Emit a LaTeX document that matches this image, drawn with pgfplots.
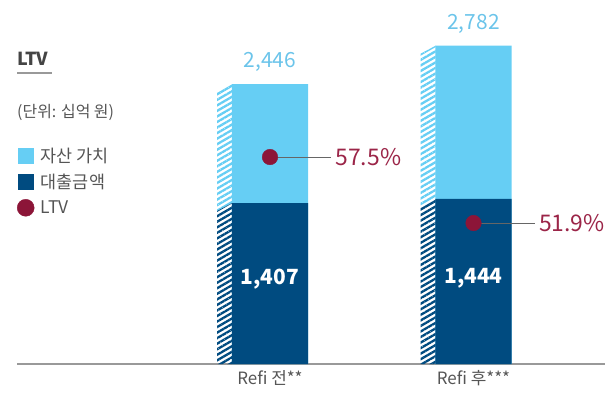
\documentclass[border=0pt]{standalone}
\usepackage{pgfplots}
\pgfplotsset{compat=1.18}
\usetikzlibrary{patterns.meta}
\usepackage{fontspec}
\setmainfont{Noto Sans CJK KR}
\definecolor{lblue}{HTML}{66CEF4}
\definecolor{dblue}{HTML}{004B80}
\definecolor{lbluetxt}{HTML}{6BC4EA}
\definecolor{ltvred}{HTML}{8C1538}
\definecolor{ltvtxt}{HTML}{9B2548}
\definecolor{txtgray}{HTML}{555555}
\definecolor{axisgray}{HTML}{999999}
\definecolor{linegray}{HTML}{666666}
\begin{document}
\begin{tikzpicture}
\path[use as bounding box] (0bp,0bp) rectangle (608bp,397bp);
\pgfplotsset{base/.style={at={(17bp,33bp)}, anchor=south west, scale only axis,
  width=588bp, height=343.2bp, xmin=-1.2432, xmax=1.6462, clip=false}}
\begin{axis}[base, ymin=0, ymax=3000,
  axis y line=none, axis x line=bottom,
  x axis line style={-, draw=axisgray, line width=1.3bp},
  xtick={0,1}, xticklabels={Refi 전**, Refi 후***}, major tick length=0pt,
  xticklabel style={font=\fontsize{17}{19}\selectfont, text=txtgray, inner sep=2bp, yshift=-4bp},
  legend cell align=left,
  legend style={at={(0,0.636)}, anchor=north west, draw=none, fill=none,
    inner sep=0pt, outer sep=0pt, row sep=6.5bp,
    font=\fontsize{17.5}{19}\selectfont, text=txtgray,
    nodes={inner sep=2bp}},
]
\addplot[ybar, bar width=0.3735, bar shift=0pt, fill=lblue, draw=none,
  legend image code/.code={\fill[lblue] (0bp,-8bp) rectangle (16bp,8bp); \path (21bp,0bp);}]
  coordinates {(0,2446) (1,2782)};
\addlegendentry{자산 가치}
\addplot[ybar, bar width=0.3735, bar shift=0pt, fill=dblue, draw=none,
  legend image code/.code={\fill[dblue] (0bp,-8bp) rectangle (16bp,8bp); \path (21bp,0bp);}]
  coordinates {(0,1407) (1,1444)};
\addlegendentry{대출금액}
\addlegendimage{legend image code/.code={\fill[ltvred] (8bp,0bp) circle (8.5bp); \path (21bp,0bp);}}
\addlegendentry{LTV}
% hatched side strips
\addplot[forget plot, draw=none, pattern={Lines[angle=30,distance=4.8bp,line width=2.3bp]}, pattern color=lblue]
  coordinates {(-0.2604,1337) (-0.2604,2376) (-0.1867,2446) (-0.1867,1407)} -- cycle;
\addplot[forget plot, draw=none, pattern={Lines[angle=30,distance=4.8bp,line width=2.3bp]}, pattern color=dblue]
  coordinates {(-0.2604,0) (-0.2604,1337) (-0.1867,1407) (-0.1867,0)} -- cycle;
\addplot[forget plot, draw=none, pattern={Lines[angle=30,distance=4.8bp,line width=2.3bp]}, pattern color=lblue]
  coordinates {(0.7396,1374) (0.7396,2712) (0.8133,2782) (0.8133,1444)} -- cycle;
\addplot[forget plot, draw=none, pattern={Lines[angle=30,distance=4.8bp,line width=2.3bp]}, pattern color=dblue]
  coordinates {(0.7396,0) (0.7396,1374) (0.8133,1444) (0.8133,0)} -- cycle;
% value labels
\node[text=lbluetxt, font=\fontsize{21}{23}\selectfont, anchor=center, yshift=22bp] at (axis cs:0,2446) {2,446};
\node[text=lbluetxt, font=\fontsize{21}{23}\selectfont, anchor=center, yshift=22bp] at (axis cs:1,2782) {2,782};
\node[text=white, font=\bfseries\fontsize{21}{23}\selectfont, anchor=center] at (axis cs:0,745) {1,407};
\node[text=white, font=\bfseries\fontsize{21}{23}\selectfont, anchor=center] at (axis cs:1,752) {1,444};
\end{axis}
\begin{axis}[base, ymin=39.94, ymax=69.06, hide axis]
\addplot[draw=linegray, line width=1bp] coordinates {(0,57.5) (0.30,57.5)}
  node[pos=1, anchor=west, inner sep=4bp, text=ltvtxt, font=\fontsize{23}{25}\selectfont] {57.5\%};
\addplot[draw=linegray, line width=1bp] coordinates {(1,51.9) (1.30,51.9)}
  node[pos=1, anchor=west, inner sep=4bp, text=ltvtxt, font=\fontsize{23}{25}\selectfont] {51.9\%};
\addplot[only marks, mark=*, mark size=7.8bp, color=ltvred, mark options={draw=none, fill=ltvred}]
  coordinates {(0,57.5) (1,51.9)};
\end{axis}
% title and unit
\node[anchor=base west, inner sep=0pt, text=txtgray!80!black, font=\bfseries\fontsize{18}{20}\selectfont] at (17bp,331bp) {LTV};
\draw[draw=axisgray, line width=1.5bp] (17bp,324bp) -- (52bp,324bp);
\node[anchor=base west, inner sep=0pt, text=txtgray, font=\fontsize{16}{18}\selectfont] at (17bp,279bp) {(단위: 십억 원)};
\end{tikzpicture}
\end{document}
